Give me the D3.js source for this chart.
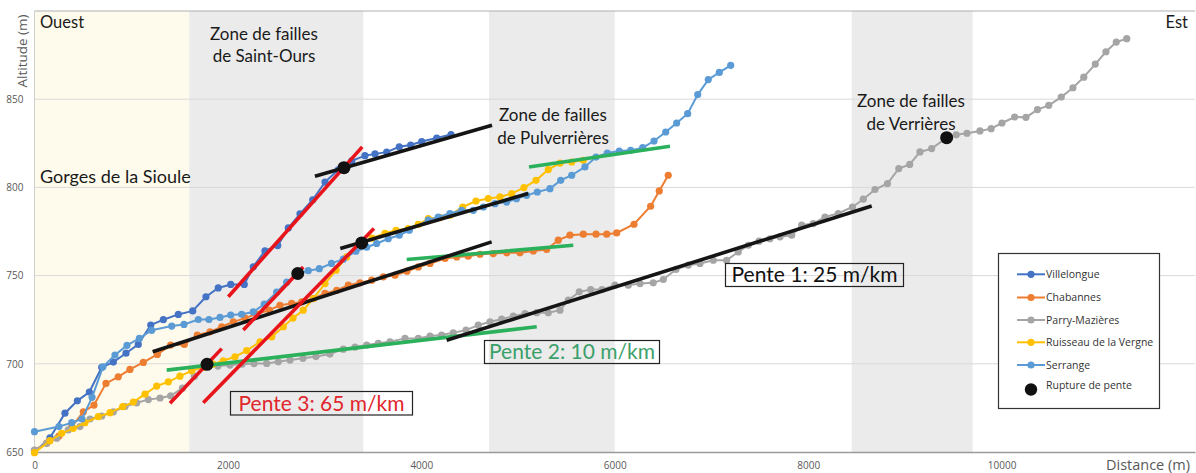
<!DOCTYPE html>
<html>
<head>
<meta charset="utf-8">
<script src="https://cdn.jsdelivr.net/npm/d3@7"></script>
<style>
  html, body { margin: 0; padding: 0; background: #ffffff; }
  svg { display: block; }
</style>
</head>
<body>
<svg id="chart" width="1196" height="473"></svg>
<script>
// ---- Longitudinal profiles of the streams (distance in m, altitude in m) ----
const villelongueDist = [0, 160, 315, 443, 567, 695, 815, 946, 1073, 1202, 1332, 1487, 1636, 1773, 1900, 2029, 2169, 2262, 2383, 2515, 2624, 2745, 2877, 3004, 3141, 3280, 3417, 3521, 3642, 3772, 3890, 4004, 4159, 4307];
const villelongueAlt  = [650, 658, 672, 679, 684, 698, 701, 706, 711, 722, 725, 728, 730, 738, 743, 745, 745, 755, 764, 767, 777, 785, 793, 803, 810, 815, 818, 819, 820, 823, 824, 826, 828, 830];

const chabannesDist = [0, 126, 253, 385, 505, 615, 739, 866, 987, 1125, 1270, 1408, 1549, 1683, 1815, 1936, 2056, 2177, 2298, 2428, 2538, 2659, 2763, 2883, 3004, 3125, 3245, 3366, 3487, 3607, 3728, 3852, 3969, 4090, 4245, 4366, 4485, 4607, 4744, 4883, 5020, 5158, 5296, 5416, 5537, 5675, 5806, 5917, 6020, 6199, 6371, 6460, 6553];
const chabannesAlt  = [651, 655, 659, 664.3, 672.8, 676.6, 688.9, 692.6, 696.8, 700.8, 705.3, 710.6, 711, 716.3, 718.1, 721, 723.8, 725.9, 728.2, 730.4, 733.2, 734.2, 735.1, 737, 739.9, 741.7, 744.6, 745.9, 747.4, 749.3, 750.2, 752.5, 754.9, 756.9, 759.7, 760.6, 761, 762.1, 762.5, 762.9, 762.9, 764, 764.8, 770.1, 772.9, 773.5, 773.5, 773.5, 774.2, 779.1, 789.3, 798, 806.9];

const parryDist = [0, 126, 230, 349, 470, 574, 695, 815, 936, 1057, 1177, 1298, 1408, 1530, 1654, 1784, 1897, 2021, 2146, 2270, 2401, 2521, 2642, 2776, 2911, 3055, 3193, 3314, 3435, 3555, 3676, 3831, 3969, 4090, 4210, 4330, 4462, 4589, 4710, 4831, 4951, 5072, 5193, 5313, 5434, 5520, 5633, 5751, 5868, 6002, 6140, 6261, 6398, 6502, 6633, 6760, 6881, 7019, 7157, 7277, 7381, 7492, 7605, 7709, 7830, 7933, 8053, 8174, 8311, 8458, 8570, 8691, 8820, 8937, 9050, 9156, 9277, 9432, 9531, 9642, 9776, 9892, 10004, 10135, 10252, 10371, 10488, 10617, 10738, 10850, 10969, 11079, 11186, 11294];
const parryAlt  = [651.1, 654.9, 657.8, 662.5, 664.4, 668.7, 670.4, 672.8, 675.8, 677.9, 679.7, 680.6, 681.9, 686.2, 693, 699.7, 698.7, 699.3, 699.8, 700.1, 700.2, 701.1, 702.1, 703.1, 704.1, 705.5, 708.3, 709.5, 710.6, 711.6, 712.5, 714.4, 714.4, 715.7, 716.3, 717.6, 719.1, 721.9, 723.8, 725.3, 727, 728.5, 729, 728.9, 730.4, 736.1, 740.8, 742.1, 742.1, 744.6, 744.6, 745.5, 745.9, 747.8, 753.5, 755.9, 756.9, 758.7, 758.7, 763.4, 767.2, 769.5, 770.9, 772, 772.9, 778.6, 779.5, 783.2, 785.2, 788.9, 793.3, 798.8, 802.2, 810.7, 813, 820.1, 822, 828.2, 829.8, 830.7, 832, 833.3, 836.5, 839.9, 839.7, 844.1, 846.5, 851.2, 856.5, 862.5, 869.9, 876.9, 882.4, 884.3];

const vergneDist = [0, 160, 281, 401, 522, 660, 781, 912, 1022, 1143, 1264, 1384, 1504, 1625, 1745, 1846, 1952, 2073, 2194, 2332, 2453, 2573, 2673, 2779, 2883, 3004, 3118, 3228, 3383, 3490, 3624, 3738, 3865, 3969, 4072, 4193, 4296, 4428, 4565, 4692, 4813, 4934, 5061, 5186, 5313, 5434, 5555, 5675];
const vergneAlt  = [649.6, 656.4, 660.6, 663.4, 666.6, 670, 672.3, 675.7, 678.3, 682.8, 687.4, 689.8, 693, 696, 698, 699.8, 701.7, 704, 707.5, 712.5, 715.3, 721, 725.9, 730.4, 737, 745.5, 753.1, 760.6, 768.5, 771.2, 774, 775.7, 776.7, 779.1, 782.3, 782.9, 784.2, 788.9, 792.3, 793.7, 794.6, 796.5, 799.9, 804, 810.1, 813.8, 814.4, 815.4];

const serrangeDist = [0, 253, 385, 491, 595, 708, 832, 956, 1084, 1212, 1419, 1546, 1694, 1804, 1918, 2029, 2142, 2262, 2376, 2504, 2608, 2722, 2831, 2945, 3071, 3193, 3324, 3435, 3538, 3658, 3772, 3876, 4072, 4175, 4296, 4417, 4537, 4641, 4762, 4883, 4984, 5089, 5199, 5330, 5441, 5555, 5692, 5806, 5923, 6047, 6165, 6289, 6406, 6527, 6640, 6754, 6858, 6967, 7081, 7199];
const serrangeAlt  = [661.5, 664.4, 666.6, 668.7, 681, 698.3, 705, 710.4, 714.4, 719, 721.4, 722.3, 725.1, 725.1, 726.3, 727.6, 728.1, 729.4, 733.8, 740.6, 746.3, 751.2, 752.8, 753.9, 756.9, 759.3, 763.8, 766.1, 768.2, 770.9, 772.9, 775.7, 781.4, 783.2, 785.2, 787, 787, 788.9, 790.8, 791.7, 793.6, 795.5, 797.4, 799.3, 804, 806.9, 811.6, 817.2, 819.5, 820.6, 821, 822.5, 826.3, 831.4, 836.5, 841.8, 852.6, 861.1, 865.2, 869.2];

const seriesNames  = ["Villelongue", "Chabannes", "Parry-Mazières", "Ruisseau de la Vergne", "Serrange"];
const seriesColors = ["#4472c4", "#ed7d31", "#a5a5a5", "#ffc000", "#5b9bd5"];

// Slope breaks (rupture de pente)
const ruptureDist = [3200, 2722, 3383, 1784, 9432];
const ruptureAlt  = [811.2, 751.2, 768.5, 699.7, 828.2];

// Fitted slope segments: [x1, alt1, x2, alt2]
const slope1Segments = [ // black
  [2900, 806.3, 4731, 835.2],
  [3162, 765.4, 5106, 796.5],
  [1222, 706.8, 4727, 769.1],
  [4262, 713.4, 8657, 789.5]
];
const slope2Segments = [ // green
  [1367, 696.4, 5193, 721.0],
  [3849, 759.1, 5571, 767.2],
  [5113, 811.6, 6571, 823.3]
];
const slope3Segments = [ // red
  [2004, 738.0, 3389, 823.0],
  [2159, 719.1, 2779, 754.9],
  [1745, 677.9, 3510, 776.7],
  [1401, 677.6, 1936, 708.6]
];

// Fault zones and gorge (distance ranges)
const gorgeZone  = [0, 1600];
const faultZones = [[1600, 3400], [4700, 6000], [8450, 9700]];

const xTicks = [0, 2000, 4000, 6000, 8000, 10000];
const yTicks = [650, 700, 750, 800, 850];

// ---- Drawing ----
const svg = d3.select("#chart");
const plotLeft = 34.5, plotRight = 1195, plotTop = 11, plotBottom = 452;

const x = d3.scaleLinear().domain([0, 12000]).range([plotLeft, plotRight]);
const y = d3.scaleLinear().domain([650, 900]).range([plotBottom, plotTop]);

const annFont = "Lato, 'Open Sans', sans-serif";
const uiFont = "'Open Sans', 'Noto Sans', sans-serif";

// background zones
svg.append("rect")
  .attr("x", x(gorgeZone[0])).attr("y", plotTop)
  .attr("width", x(gorgeZone[1]) - x(gorgeZone[0])).attr("height", plotBottom - plotTop)
  .attr("fill", "#fffbec");
svg.selectAll("rect.fault").data(faultZones).join("rect")
  .attr("class", "fault")
  .attr("x", d => x(d[0])).attr("y", plotTop)
  .attr("width", d => x(d[1]) - x(d[0])).attr("height", plotBottom - plotTop)
  .attr("fill", "#ebebeb");

// horizontal gridlines
svg.append("g").selectAll("line").data(yTicks.slice(1)).join("line")
  .attr("x1", plotLeft).attr("x2", plotRight)
  .attr("y1", d => y(d)).attr("y2", d => y(d))
  .attr("stroke", "#d9d9d9").attr("stroke-width", 1);

// plot frame (top and left) and x axis
svg.append("line").attr("x1", plotLeft).attr("x2", plotRight).attr("y1", plotTop).attr("y2", plotTop)
  .attr("stroke", "#b0b0b0").attr("stroke-width", 1.2);
svg.append("line").attr("x1", plotLeft).attr("x2", plotLeft).attr("y1", plotTop).attr("y2", plotBottom)
  .attr("stroke", "#d0d0d0").attr("stroke-width", 1);

const xAxis = d3.axisBottom(x).tickValues(xTicks).tickSize(0).tickPadding(10).tickFormat(d3.format("d"));
const gx = svg.append("g").attr("transform", `translate(0,${plotBottom})`).call(xAxis);
gx.select(".domain").attr("stroke", "#9a9a9a").attr("stroke-width", 1.5);
gx.selectAll("text").attr("font-family", uiFont).attr("font-size", 10).attr("fill", "#595959");

const yAxis = d3.axisLeft(y).tickValues(yTicks).tickSize(0).tickPadding(11).tickFormat(d3.format("d"));
const gy = svg.append("g").attr("transform", `translate(${plotLeft},0)`).call(yAxis);
gy.select(".domain").remove();
gy.selectAll("text").attr("font-family", uiFont).attr("font-size", 10).attr("fill", "#595959");

// axis titles
svg.append("text").attr("transform", "translate(27,51) rotate(-90)")
  .attr("text-anchor", "middle").attr("font-family", uiFont).attr("font-size", 13.5)
  .attr("fill", "#595959").text("Altitude (m)");
svg.append("text").attr("x", 1190).attr("y", 470).attr("text-anchor", "end")
  .attr("font-family", uiFont).attr("font-size", 14.5).attr("fill", "#595959").text("Distance (m)");

// series
const seriesData = [
  [villelongueDist, villelongueAlt],
  [chabannesDist, chabannesAlt],
  [parryDist, parryAlt],
  [vergneDist, vergneAlt],
  [serrangeDist, serrangeAlt]
].map((s, i) => ({ name: seriesNames[i], color: seriesColors[i], pts: s[0].map((d, j) => [d, s[1][j]]) }));

const line = d3.line().x(d => x(d[0])).y(d => y(d[1]));
const gSeries = svg.append("g");
seriesData.forEach(s => {
  const g = gSeries.append("g");
  g.append("path").attr("d", line(s.pts)).attr("fill", "none")
    .attr("stroke", s.color).attr("stroke-width", 2);
  g.selectAll("circle").data(s.pts).join("circle")
    .attr("cx", d => x(d[0])).attr("cy", d => y(d[1])).attr("r", 3.6)
    .attr("fill", s.color);
});

// slope segments
function drawSegments(segs, color) {
  svg.append("g").selectAll("line").data(segs).join("line")
    .attr("x1", d => x(d[0])).attr("y1", d => y(d[1]))
    .attr("x2", d => x(d[2])).attr("y2", d => y(d[3]))
    .attr("stroke", color).attr("stroke-width", 3.6).attr("stroke-linecap", "butt");
}
drawSegments(slope2Segments, "#2bb05b");
drawSegments(slope1Segments, "#151515");
drawSegments(slope3Segments, "#e8141c");

// slope breaks
svg.append("g").selectAll("circle").data(ruptureDist.map((d, i) => [d, ruptureAlt[i]])).join("circle")
  .attr("cx", d => x(d[0])).attr("cy", d => y(d[1])).attr("r", 6.5).attr("fill", "#111111");

// annotations
function label(lines, cx, baseline, size, anchor) {
  const t = svg.append("text").attr("font-family", annFont).attr("font-size", size)
    .attr("fill", "#1a1a1a").attr("text-anchor", anchor || "middle");
  lines.forEach((l, i) => t.append("tspan").attr("x", cx).attr("y", baseline + i * 22.5).text(l));
}
label(["Ouest"], 40, 28, 16.5, "start");
label(["Est"], 1188, 28, 16.5, "end");
label(["Zone de failles", "de Saint-Ours"], 264, 39.5, 17);
label(["Zone de failles", "de Pulverrières"], 553, 121, 17);
label(["Zone de failles", "de Verrières"], 911, 107, 17);
label(["Gorges de la Sioule"], 40, 183, 18, "start");

// slope value boxes
function slopeBox(txt, bx, by, bw, bh, color) {
  svg.append("rect").attr("x", bx).attr("y", by).attr("width", bw).attr("height", bh)
    .attr("fill", "none").attr("stroke", "#222").attr("stroke-width", 1.2);
  svg.append("text").attr("x", bx + bw / 2).attr("y", by + bh - 4.5).attr("text-anchor", "middle")
    .attr("font-family", annFont).attr("font-size", 21).attr("fill", color).text(txt);
}
slopeBox("Pente 3: 65 m/km", 230.5, 391.5, 182, 23.5, "#e0262c");
slopeBox("Pente 2: 10 m/km", 484.5, 340.5, 175, 23, "#3aa06a");
slopeBox("Pente 1: 25 m/km", 725.5, 263.5, 178, 23, "#111111");

// legend
const lg = svg.append("g");
lg.append("rect").attr("x", 998.5).attr("y", 253.5).attr("width", 161).attr("height", 155)
  .attr("fill", "#ffffff").attr("stroke", "#333").attr("stroke-width", 1.2);
const legY = [274.3, 297.5, 320, 342.3, 365];
seriesData.forEach((s, i) => {
  lg.append("line").attr("x1", 1017).attr("x2", 1045).attr("y1", legY[i]).attr("y2", legY[i])
    .attr("stroke", s.color).attr("stroke-width", 2);
  lg.append("circle").attr("cx", 1031).attr("cy", legY[i]).attr("r", 3.6).attr("fill", s.color);
  lg.append("text").attr("x", 1046).attr("y", legY[i] + 3.8).attr("font-family", uiFont)
    .attr("font-size", 10.5).attr("fill", "#333").text(s.name);
});
lg.append("circle").attr("cx", 1031).attr("cy", 389.5).attr("r", 6.2).attr("fill", "#111");
lg.append("text").attr("x", 1046).attr("y", 388.5).attr("font-family", uiFont)
  .attr("font-size", 10.5).attr("fill", "#333").text("Rupture de pente");
</script>
</body>
</html>
